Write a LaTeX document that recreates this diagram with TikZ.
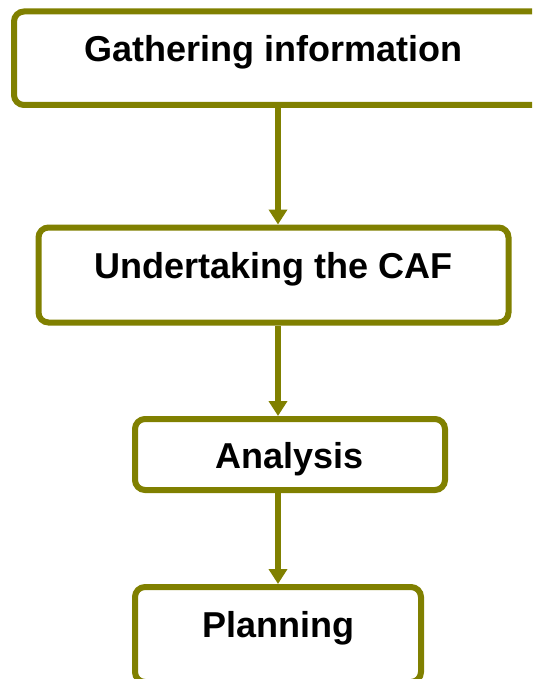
\documentclass[tikz,border=0pt]{standalone}
\usepackage{fontspec}
\setmainfont{Liberation Sans}
\usetikzlibrary{arrows.meta}
\definecolor{boxolive}{RGB}{128,128,0}
\tikzset{
  stepbox/.style={draw=boxolive, line width=6pt, rounded corners=10pt, fill=white, inner sep=0pt},
  lbl/.style={font=\fontsize{36}{40}\selectfont\bfseries, text=black, inner sep=0pt, anchor=base},
  arr/.style={draw=boxolive, line width=6pt, -{Triangle[width=18pt,length=15pt]}}
}
\begin{document}
\begin{tikzpicture}[x=1pt,y=-1pt]
\useasboundingbox (0,0) rectangle (532,679);
\clip (0,0) rectangle (532,679);
\node[stepbox, minimum width=531pt, minimum height=93.5pt] (b1) at (279.5,58.25) {};
\node[stepbox, minimum width=470pt, minimum height=95pt] (b2) at (273.5,275) {};
\node[stepbox, minimum width=310pt, minimum height=71pt] (b3) at (290,454.5) {};
\node[stepbox, minimum width=286pt, minimum height=95pt] (b4) at (278,634.5) {};
\node[lbl] (t1) at (273.5,62) {Gathering information};
\node[lbl] (t2) at (273.5,278) {Undertaking the CAF};
\node[lbl] (t3) at (289.5,468) {Analysis};
\node[lbl] (t4) at (278.5,637) {Planning};
\coordinate (ax) at (278,0);
\draw[arr] (b1.south -| ax) -- (b2.north -| ax);
\draw[arr] (b2.south -| ax) -- (b3.north -| ax);
\draw[arr] (b3.south -| ax) -- (b4.north -| ax);
\end{tikzpicture}
\end{document}
